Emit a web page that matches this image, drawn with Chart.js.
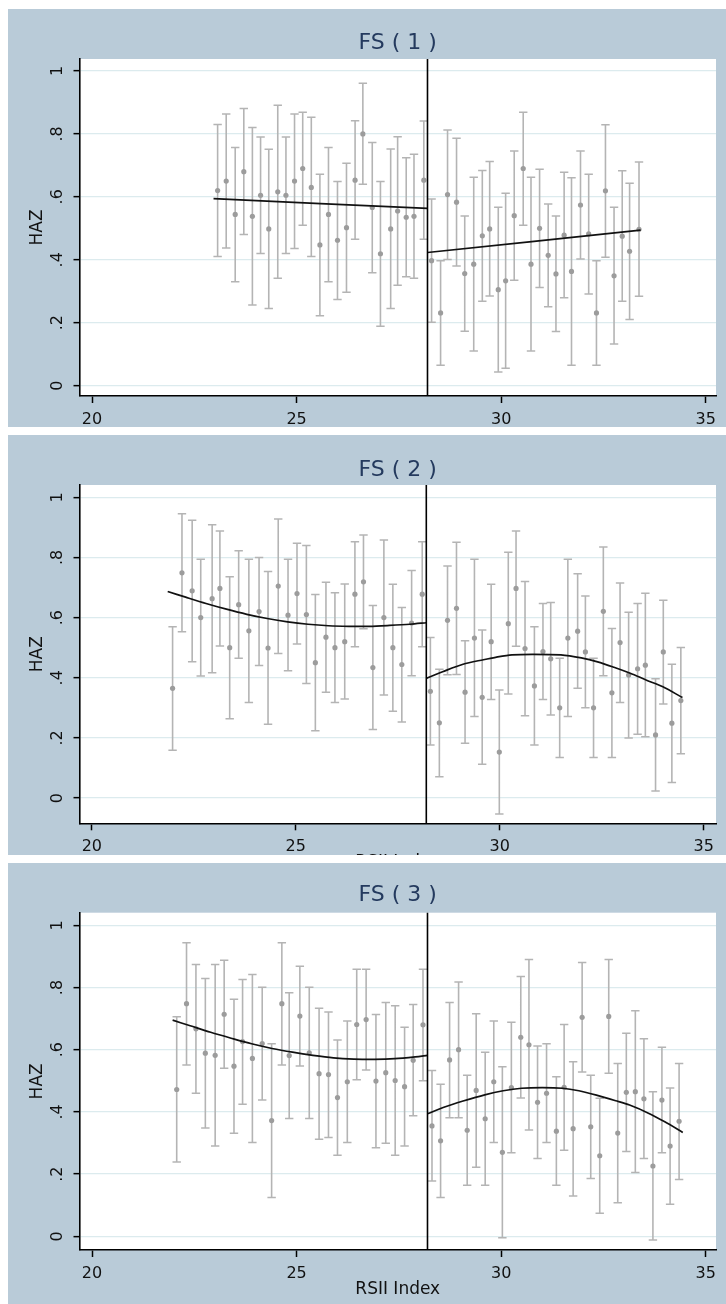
<!DOCTYPE html>
<html>
<head>
<meta charset="utf-8">
<script src="https://cdn.jsdelivr.net/npm/chart.js@4.4.1/dist/chart.umd.min.js"></script>
<style>
  html, body { margin: 0; padding: 0; background: #ffffff; }
  body { width: 726px; height: 1304px; position: relative; overflow: hidden; }
  .panel { position: absolute; left: 8px; width: 718px; background: #b9cbd8; overflow: hidden; }
  .panel canvas { display: block; }
</style>
</head>
<body>
<div class="panel" style="top:9px;height:418px"><canvas id="c1" width="718" height="418"></canvas></div>
<div class="panel" style="top:435px;height:420px"><canvas id="c2" width="718" height="420"></canvas></div>
<div class="panel" style="top:863px;height:441px"><canvas id="c3" width="718" height="441"></canvas></div>
<script>
// ---------- shared axis data ----------
const xTicks = [20, 25, 30, 35];
const yTicks = [0, 0.2, 0.4, 0.6, 0.8, 1];
const yTickLabels = ['0', '.2', '.4', '.6', '.8', '1'];
const cutoff = 28.2;
const xAxisTitle = 'RSII Index';
const yAxisTitle = 'HAZ';

// ---------- FS ( 1 ) ----------
const fs1X    = [23.07,23.28,23.50,23.71,23.92,24.12,24.32,24.54,24.74,24.95,25.15,25.36,25.57,25.78,26.00,26.22,26.43,26.62,26.85,27.05,27.30,27.47,27.68,27.87,28.11,
                 28.30,28.52,28.69,28.91,29.11,29.33,29.54,29.72,29.93,30.11,30.32,30.54,30.73,30.94,31.15,31.34,31.54,31.72,31.94,32.14,32.33,32.55,32.76,32.96,33.14,33.37];
const fs1Lo   = [0.410,0.437,0.330,0.480,0.256,0.420,0.245,0.341,0.420,0.436,0.510,0.410,0.222,0.330,0.274,0.297,0.465,0.640,0.359,0.189,0.245,0.319,0.346,0.341,0.465,
                 0.201,0.065,0.401,0.380,0.173,0.110,0.268,0.285,0.043,0.055,0.335,0.510,0.110,0.312,0.251,0.172,0.279,0.065,0.402,0.291,0.065,0.408,0.132,0.268,0.210,0.284];
const fs1Mean = [0.620,0.650,0.544,0.680,0.538,0.605,0.498,0.616,0.605,0.650,0.690,0.630,0.447,0.544,0.462,0.502,0.653,0.800,0.566,0.419,0.498,0.555,0.535,0.538,0.653,
                 0.397,0.231,0.607,0.583,0.356,0.386,0.476,0.498,0.305,0.333,0.540,0.690,0.386,0.500,0.414,0.355,0.478,0.363,0.574,0.482,0.231,0.619,0.349,0.475,0.427,0.497];
const fs1Hi   = [0.830,0.863,0.757,0.881,0.820,0.790,0.751,0.891,0.790,0.863,0.869,0.853,0.672,0.757,0.649,0.707,0.842,0.961,0.773,0.649,0.752,0.791,0.724,0.735,0.841,
                 0.593,0.397,0.812,0.786,0.539,0.662,0.684,0.712,0.567,0.611,0.746,0.869,0.662,0.688,0.577,0.539,0.678,0.661,0.746,0.672,0.397,0.829,0.567,0.683,0.643,0.711];
const fs1FitLX = [22.97, 28.20];
const fs1FitLY = [0.594, 0.563];
const fs1FitRX = [28.20, 33.41];
const fs1FitRY = [0.423, 0.494];

// ---------- FS ( 2 ) ----------
const fs2X    = [21.98,22.21,22.46,22.67,22.95,23.14,23.38,23.60,23.85,24.10,24.32,24.57,24.81,25.03,25.26,25.48,25.74,25.96,26.20,26.45,26.66,26.89,27.16,27.38,27.60,27.84,28.10,
                 28.30,28.52,28.72,28.94,29.15,29.38,29.57,29.79,29.99,30.21,30.40,30.62,30.85,31.06,31.25,31.47,31.67,31.91,32.10,32.30,32.54,32.75,32.95,33.16,33.38,33.57,33.82,34.01,34.22,34.44];
const fs2Lo   = [0.159,0.553,0.453,0.406,0.417,0.506,0.264,0.465,0.318,0.441,0.245,0.481,0.423,0.512,0.381,0.224,0.352,0.318,0.329,0.503,0.563,0.228,0.343,0.289,0.253,0.407,0.503,
                 0.176,0.071,0.410,0.411,0.182,0.271,0.112,0.328,-0.053,0.346,0.505,0.274,0.176,0.328,0.276,0.135,0.271,0.365,0.300,0.135,0.407,0.135,0.318,0.200,0.212,0.204,0.023,0.313,0.052,0.147];
const fs2Mean = [0.365,0.749,0.689,0.600,0.663,0.697,0.500,0.643,0.556,0.620,0.499,0.705,0.608,0.680,0.610,0.450,0.535,0.500,0.520,0.678,0.719,0.434,0.600,0.500,0.444,0.582,0.678,
                 0.355,0.250,0.591,0.631,0.352,0.532,0.335,0.520,0.153,0.580,0.697,0.497,0.373,0.487,0.463,0.300,0.532,0.555,0.486,0.300,0.621,0.350,0.517,0.409,0.430,0.442,0.210,0.486,0.249,0.324];
const fs2Hi   = [0.570,0.945,0.924,0.794,0.909,0.888,0.736,0.822,0.794,0.800,0.753,0.928,0.794,0.847,0.840,0.677,0.718,0.683,0.712,0.852,0.875,0.640,0.858,0.711,0.634,0.757,0.852,
                 0.534,0.428,0.772,0.851,0.523,0.794,0.559,0.711,0.359,0.817,0.888,0.720,0.570,0.647,0.650,0.465,0.794,0.746,0.672,0.465,0.835,0.564,0.715,0.618,0.647,0.681,0.397,0.658,0.445,0.501];
const fs2FitLX = [21.86,22.30,22.80,23.30,23.80,24.30,24.80,25.30,25.80,26.30,26.80,27.30,27.80,28.20];
const fs2FitLY = [0.687,0.668,0.647,0.628,0.611,0.597,0.586,0.578,0.573,0.571,0.571,0.574,0.578,0.583];
const fs2FitRX = [28.20,28.60,29.10,29.60,29.90,30.30,30.80,31.50,32.00,32.40,32.80,33.20,33.60,34.00,34.48];
const fs2FitRY = [0.398,0.420,0.445,0.460,0.468,0.476,0.478,0.476,0.466,0.453,0.435,0.415,0.392,0.370,0.334];

// ---------- FS ( 3 ) ----------
const fs3X    = [22.07,22.31,22.54,22.77,23.01,23.23,23.47,23.68,23.92,24.16,24.39,24.64,24.82,25.08,25.31,25.55,25.78,26.00,26.24,26.47,26.70,26.94,27.18,27.41,27.64,27.85,28.09,
                 28.31,28.52,28.74,28.96,29.17,29.39,29.61,29.82,30.03,30.25,30.48,30.68,30.89,31.11,31.35,31.54,31.76,31.98,32.19,32.41,32.63,32.85,33.06,33.28,33.49,33.71,33.93,34.13,34.35];
const fs3Lo   = [0.239,0.551,0.460,0.348,0.290,0.540,0.331,0.425,0.302,0.438,0.125,0.551,0.379,0.548,0.379,0.312,0.318,0.261,0.302,0.503,0.535,0.285,0.299,0.261,0.290,0.388,0.500,
                 0.178,0.125,0.381,0.381,0.164,0.222,0.164,0.302,-0.005,0.269,0.445,0.342,0.250,0.302,0.164,0.277,0.130,0.528,0.186,0.074,0.524,0.108,0.273,0.205,0.250,-0.012,0.269,0.103,0.183];
const fs3Mean = [0.472,0.748,0.667,0.589,0.582,0.714,0.547,0.626,0.572,0.620,0.372,0.748,0.581,0.708,0.590,0.523,0.520,0.446,0.497,0.681,0.697,0.499,0.526,0.501,0.481,0.566,0.680,
                 0.355,0.307,0.567,0.600,0.341,0.469,0.378,0.497,0.270,0.478,0.640,0.616,0.431,0.460,0.338,0.479,0.346,0.704,0.352,0.259,0.707,0.332,0.463,0.465,0.442,0.226,0.438,0.290,0.370];
const fs3Hi   = [0.706,0.944,0.874,0.829,0.874,0.888,0.762,0.826,0.842,0.801,0.619,0.944,0.783,0.868,0.801,0.733,0.721,0.631,0.692,0.859,0.859,0.713,0.752,0.741,0.672,0.745,0.859,
                 0.533,0.489,0.752,0.818,0.518,0.716,0.592,0.692,0.545,0.688,0.835,0.890,0.612,0.619,0.513,0.681,0.561,0.880,0.518,0.444,0.890,0.556,0.653,0.725,0.635,0.465,0.608,0.477,0.556];
const fs3FitLX = [21.97,22.40,22.90,23.40,23.90,24.40,24.90,25.40,25.90,26.40,26.90,27.40,27.90,28.20];
const fs3FitLY = [0.695,0.677,0.656,0.637,0.619,0.604,0.592,0.582,0.574,0.570,0.569,0.571,0.577,0.582];
const fs3FitRX = [28.20,28.60,29.07,29.60,30.05,30.50,31.00,31.50,31.90,32.33,32.80,33.14,33.60,34.00,34.44];
const fs3FitRY = [0.394,0.415,0.435,0.455,0.468,0.476,0.478,0.476,0.468,0.454,0.436,0.422,0.396,0.368,0.334];

// ---------- styling ----------
Chart.defaults.font.family = "'DejaVu Sans', 'Noto Sans', sans-serif";
const barColor = '#b4b4b4';
const dotColor = '#9c9c9c';
const gridColor = '#dcebee';

const areaBg = {
  id: 'areaBg',
  beforeDraw(chart) {
    const { ctx, chartArea: a } = chart;
    ctx.save();
    ctx.fillStyle = '#ffffff';
    ctx.fillRect(a.left, a.top, a.right - a.left, a.bottom - a.top);
    ctx.restore();
  }
};

function pairs(xs, ys) { return xs.map((x, i) => ({ x: x, y: ys[i] })); }
function segments(xs, lo, hi) {
  const d = [];
  xs.forEach((x, i) => { d.push({ x: x, y: lo[i] }, { x: x, y: hi[i] }, { x: x, y: null }); });
  return d;
}

function makeChart(id, p) {
  const datasets = [
    { type: 'line', data: [{ x: cutoff, y: p.yMin - 1 }, { x: cutoff, y: p.yMax + 1 }],
      borderColor: '#000', borderWidth: 1.6, pointRadius: 0, order: 0 },
    { type: 'line', data: pairs(p.fitLX, p.fitLY), borderColor: '#111', borderWidth: 1.7, pointRadius: 0, tension: 0.3, order: 1 },
    { type: 'line', data: pairs(p.fitRX, p.fitRY), borderColor: '#111', borderWidth: 1.7, pointRadius: 0, tension: 0.3, order: 1 },
    { type: 'scatter', data: pairs(p.x, p.mean), pointStyle: 'circle', pointRadius: 2.6,
      pointBackgroundColor: dotColor, pointBorderWidth: 0, order: 2 },
    { type: 'scatter', data: pairs(p.x, p.lo).concat(pairs(p.x, p.hi)), pointStyle: 'line', pointRadius: 4.2,
      pointBorderColor: barColor, pointBorderWidth: 1.5, order: 3 },
    { type: 'line', data: segments(p.x, p.lo, p.hi), borderColor: barColor, borderWidth: 1.6,
      pointRadius: 0, spanGaps: false, order: 4 }
  ];
  return new Chart(document.getElementById(id), {
    type: 'scatter',
    data: { datasets: datasets },
    options: {
      responsive: false,
      animation: false,
      events: [],
      layout: { padding: { left: 0, right: 10, top: 0, bottom: 0 } },
      plugins: {
        legend: { display: false },
        tooltip: { enabled: false },
        title: {
          display: true, text: p.title, fullSize: false, color: '#243a5e',
          font: { size: 22, weight: 'normal', lineHeight: 1.2 },
          padding: { top: p.tPad, bottom: p.bPad }
        }
      },
      scales: {
        x: {
          type: 'linear', min: p.xMin, max: p.xMax,
          afterBuildTicks: s => { s.ticks = xTicks.map(v => ({ value: v })); },
          afterFit: s => { s.height = p.xH; },
          grid: { drawOnChartArea: false, drawTicks: true, tickLength: 7, tickColor: '#000', tickWidth: 1.5 },
          border: { display: true, color: '#000', width: 1.6 },
          ticks: { color: '#111', font: { size: 16 }, padding: 7, minRotation: 0, maxRotation: 0, autoSkip: false },
          title: { display: p.showXTitle, text: xAxisTitle, color: '#111', font: { size: 17 },
                   padding: { top: 0, bottom: p.xTitlePad } }
        },
        y: {
          type: 'linear', min: p.yMin, max: p.yMax,
          afterBuildTicks: s => { s.ticks = yTicks.map(v => ({ value: v })); },
          afterFit: s => { s.width = 71.5; },
          grid: { color: gridColor, lineWidth: 1.3, drawTicks: true, tickLength: 6, tickColor: '#000', tickWidth: 1.5 },
          border: { display: true, color: '#000', width: 1.6 },
          ticks: { color: '#111', font: { size: 16 }, padding: 8, minRotation: 90, maxRotation: 90,
                   crossAlign: 'center', autoSkip: false,
                   callback: (v, i) => yTickLabels[i] },
          title: { display: true, text: yAxisTitle, color: '#111', font: { size: 17 },
                   padding: { top: 19, bottom: 0 } }
        }
      }
    },
    plugins: [areaBg]
  });
}

makeChart('c1', { title: 'FS ( 1 )', x: fs1X, lo: fs1Lo, mean: fs1Mean, hi: fs1Hi,
  fitLX: fs1FitLX, fitLY: fs1FitLY, fitRX: fs1FitRX, fitRY: fs1FitRY,
  xMin: 19.694, xMax: 35.252, yMin: -0.033, yMax: 1.038, xH: 31, tPad: 20.8, bPad: 2.8,
  showXTitle: false, xTitlePad: 0 });
makeChart('c2', { title: 'FS ( 2 )', x: fs2X, lo: fs2Lo, mean: fs2Mean, hi: fs2Hi,
  fitLX: fs2FitLX, fitLY: fs2FitLY, fitRX: fs2FitRX, fitRY: fs2FitRY,
  xMin: 19.698, xMax: 35.302, yMin: -0.084, yMax: 1.041, xH: 31.7, tPad: 21.8, bPad: 1.8,
  showXTitle: true, xTitlePad: -17.5 });
makeChart('c3', { title: 'FS ( 3 )', x: fs3X, lo: fs3Lo, mean: fs3Mean, hi: fs3Hi,
  fitLX: fs3FitLX, fitLY: fs3FitLY, fitRX: fs3FitRX, fitRY: fs3FitRY,
  xMin: 19.694, xMax: 35.252, yMin: -0.044, yMax: 1.0405, xH: 54, tPad: 18.8, bPad: 4.5,
  showXTitle: true, xTitlePad: 3.8 });
</script>
</body>
</html>
